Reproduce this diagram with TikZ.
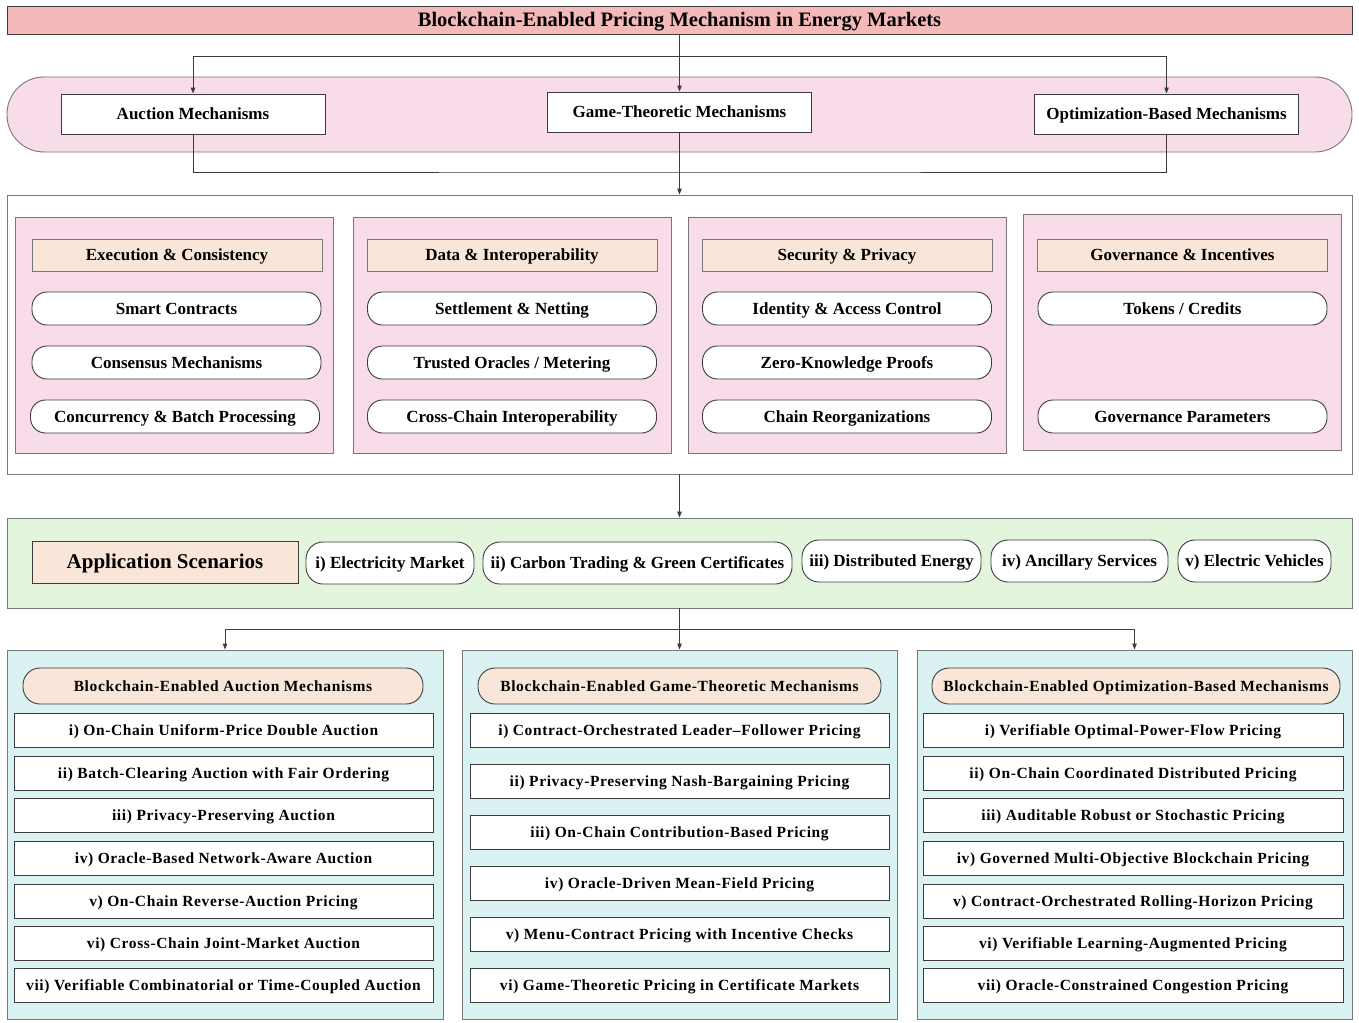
\documentclass[tikz,border=0pt]{standalone}
\usepackage{fontspec}
\setmainfont{Liberation Serif}
\newfontfamily\spacedfont[LetterSpace=4,Ligatures=TeX]{Liberation Serif}
\usepackage{xcolor}
\usepackage{tikz}
\usetikzlibrary{arrows.meta,positioning}
\definecolor{TitleRed}{RGB}{244,185,185}
\definecolor{PinkBg}{RGB}{249,220,234}
\definecolor{Peach}{RGB}{250,230,216}
\definecolor{AppGreen}{RGB}{227,245,220}
\definecolor{CyanBg}{RGB}{218,242,242}
\definecolor{EdgeGray}{RGB}{120,120,120}
\definecolor{LineGray}{RGB}{60,60,60}
\tikzset{
  base/.style={draw=LineGray,line width=0.9pt,inner sep=0pt,
               text height=11.2pt,text depth=0pt,
               font=\fontsize{17}{20}\selectfont\bfseries},
  titlebox/.style={base,fill=TitleRed,minimum width=1345pt,minimum height=28pt,
                   text height=13.5pt,font=\fontsize{20.5}{24}\selectfont\bfseries},
  band/.style={draw=EdgeGray,line width=0.9pt,fill=PinkBg,rounded corners=37pt,
               minimum width=1345pt,minimum height=75pt},
  mech/.style={base,fill=white,minimum width=264pt,minimum height=40pt},
  frame/.style={draw=EdgeGray,line width=0.9pt,fill=white},
  panel/.style={draw=EdgeGray,line width=0.9pt,fill=PinkBg,
                minimum width=318pt,minimum height=236pt},
  hdr/.style={base,draw=EdgeGray,fill=Peach,minimum width=290pt,minimum height=32pt},
  pill/.style={base,fill=white,rounded corners=15pt,minimum width=289pt,minimum height=33pt},
  appbox/.style={draw=EdgeGray,line width=0.9pt,fill=AppGreen,
                 minimum width=1345pt,minimum height=90pt},
  apptitle/.style={base,fill=Peach,minimum width=266pt,minimum height=42pt,
                   text height=13.9pt,font=\fontsize{21}{24}\selectfont\bfseries},
  apppill/.style={base,fill=white,rounded corners=17pt,minimum height=42pt},
  lowpanel/.style={draw=EdgeGray,line width=0.9pt,fill=CyanBg,
                   minimum width=435pt,minimum height=369pt},
  lowhdr/.style={base,fill=Peach,rounded corners=17pt,minimum height=36pt,
                 text height=10.2pt,font=\spacedfont\fontsize{15.5}{18}\selectfont\bfseries},
  item/.style={base,fill=white,minimum width=419pt,minimum height=34pt,
               text height=10.2pt,font=\spacedfont\fontsize{15.5}{18}\selectfont\bfseries},
  conn/.style={-{Triangle[length=6pt,width=4.5pt]},line width=0.9pt,LineGray},
  link/.style={line width=0.9pt,LineGray},
}

\begin{document}
\begin{tikzpicture}[x=1pt,y=-1pt]
  \useasboundingbox (0,0) rectangle (1359,1022);

  % title and the three families
  \node[titlebox] (title) at (679.5,20) {Blockchain-Enabled Pricing Mechanism in Energy Markets};
  \node[band] (band) at (679.5,114.5) {};
  \node[mech] (auc)  at (193,114)    {Auction Mechanisms};
  \node[mech] (game) at (679.5,112)  {Game-Theoretic Mechanisms};
  \node[mech] (opt)  at (1166.5,114) {Optimization-Based Mechanisms};

  \coordinate (split1) at (679.5,56);
  \coordinate (merge1) at (679.5,172);
  \draw[conn] (title.south) -- (game.north);
  \draw[conn] (split1) -| (auc.north);
  \draw[conn] (split1) -| (opt.north);
  \draw[link] (auc.south) |- (merge1) -| (opt.south);

  % blockchain layer
  \node[frame,minimum width=1345pt,minimum height=279pt] (core) at (679.5,334.5) {};
  \draw[conn] (game.south) -- (core.north);

  \node[panel] (p1) at (174.5,335) {};
  \node[panel] (p2) at (512,335)   {};
  \node[panel] (p3) at (847,335)   {};
  \node[panel] (p4) at (1182,332)  {};

  \node[hdr] (h1) at (177,255)    {Execution \& Consistency};
  \node[hdr] (h2) at (512,255)    {Data \& Interoperability};
  \node[hdr] (h3) at (847,255)    {Security \& Privacy};
  \node[hdr] (h4) at (1182.5,255) {Governance \& Incentives};

  \node[pill] (e1) at (176.5,308.5) {Smart Contracts};
  \node[pill] (e2) at (176.5,362.5) {Consensus Mechanisms};
  \node[pill] (e3) at (175,416.5)   {Concurrency \& Batch Processing};
  \node[pill] (d1) at (512,308.5)   {Settlement \& Netting};
  \node[pill] (d2) at (512,362.5)   {Trusted Oracles / Metering};
  \node[pill] (d3) at (512,416.5)   {Cross-Chain Interoperability};
  \node[pill] (s1) at (847,308.5)   {Identity \& Access Control};
  \node[pill] (s2) at (847,362.5)   {Zero-Knowledge Proofs};
  \node[pill] (s3) at (847,416.5)   {Chain Reorganizations};
  \node[pill] (g1) at (1182.5,308.5) {Tokens / Credits};
  \node[pill] (g2) at (1182.5,416.5) {Governance Parameters};

  % application scenarios
  \node[appbox] (apps) at (679.5,563) {};
  \draw[conn] (core.south) -- (apps.north);
  \node[apptitle] (appttl) at (165,562) {Application Scenarios};
  \node[apppill,minimum width=168pt] (a1) at (390,563)    {i) Electricity Market};
  \node[apppill,minimum width=309pt] (a2) at (637.5,563)  {ii) Carbon Trading \& Green Certificates};
  \node[apppill,minimum width=179pt] (a3) at (891.5,561)  {iii) Distributed Energy};
  \node[apppill,minimum width=177pt] (a4) at (1079.5,561) {iv) Ancillary Services};
  \node[apppill,minimum width=153pt] (a5) at (1254.5,561) {v) Electric Vehicles};

  % pricing mechanism families
  \node[lowpanel,minimum width=436pt] (bl) at (225,834.5) {};
  \node[lowpanel] (bm) at (679.5,834.5) {};
  \node[lowpanel] (br) at (1134.5,834.5) {};

  \coordinate (split2) at (679.5,629);
  \draw[conn] (apps.south) -- (bm.north);
  \draw[conn] (split2) -| (bl.north);
  \draw[conn] (split2) -| (br.north);

  \node[lowhdr,minimum width=400pt] (hl) at (223,686)   {Blockchain-Enabled Auction Mechanisms};
  \node[lowhdr,minimum width=403pt] (hm) at (679.5,686) {Blockchain-Enabled Game-Theoretic Mechanisms};
  \node[lowhdr,minimum width=408pt] (hr) at (1136,686)  {Blockchain-Enabled Optimization-Based Mechanisms};

  \node[item] (l1) at (223.5,730) {i) On-Chain Uniform-Price Double Auction};
  \node[item] (l2) at (223.5,773) {ii) Batch-Clearing Auction with Fair Ordering};
  \node[item] (l3) at (223.5,815) {iii) Privacy-Preserving Auction};
  \node[item] (l4) at (223.5,858) {iv) Oracle-Based Network-Aware Auction};
  \node[item] (l5) at (223.5,901) {v) On-Chain Reverse-Auction Pricing};
  \node[item] (l6) at (223.5,943) {vi) Cross-Chain Joint-Market Auction};
  \node[item] (l7) at (223.5,985) {vii) Verifiable Combinatorial or Time-Coupled Auction};

  \node[item] (m1) at (679.5,730) {i) Contract-Orchestrated Leader\textendash Follower Pricing};
  \node[item] (m2) at (679.5,781) {ii) Privacy-Preserving Nash-Bargaining Pricing};
  \node[item] (m3) at (679.5,832) {iii) On-Chain Contribution-Based Pricing};
  \node[item] (m4) at (679.5,883) {iv) Oracle-Driven Mean-Field Pricing};
  \node[item] (m5) at (679.5,934) {v) Menu-Contract Pricing with Incentive Checks};
  \node[item] (m6) at (679.5,985) {vi) Game-Theoretic Pricing in Certificate Markets};

  \node[item,minimum width=420pt] (r1) at (1133,730) {i) Verifiable Optimal-Power-Flow Pricing};
  \node[item,minimum width=420pt] (r2) at (1133,773) {ii) On-Chain Coordinated Distributed Pricing};
  \node[item,minimum width=420pt] (r3) at (1133,815) {iii) Auditable Robust or Stochastic Pricing};
  \node[item,minimum width=420pt] (r4) at (1133,858) {iv) Governed Multi-Objective Blockchain Pricing};
  \node[item,minimum width=420pt] (r5) at (1133,901) {v) Contract-Orchestrated Rolling-Horizon Pricing};
  \node[item,minimum width=420pt] (r6) at (1133,943) {vi) Verifiable Learning-Augmented Pricing};
  \node[item,minimum width=420pt] (r7) at (1133,985) {vii) Oracle-Constrained Congestion Pricing};
\end{tikzpicture}
\end{document}
